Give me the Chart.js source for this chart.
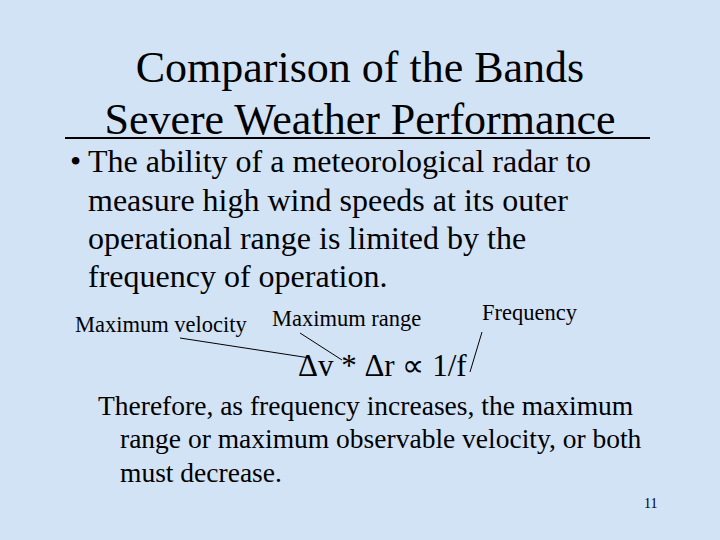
<!DOCTYPE html>
<html><head><meta charset="utf-8">
<script src="https://cdn.jsdelivr.net/npm/chart.js@4"></script>
<style>
body{margin:0;width:720px;height:540px;overflow:hidden;background:#d3e3f6;font-family:"Times New Roman","Liberation Serif",Tinos,serif;color:#000;position:relative}
.t{position:absolute;white-space:nowrap}
.title{font-size:44px;left:0;width:720px;text-align:center}
.b{font-size:32px}
.s{font-size:22.5px}
canvas{position:absolute;left:0;top:0}
</style></head><body>
<canvas id="c" width="720" height="540" style="display:none"></canvas>
<div class="t title" style="top:42px">Comparison of the Bands</div>
<div class="t title" style="top:94px">Severe Weather Performance</div>
<svg width="720" height="540" style="position:absolute;left:0;top:0">
<line x1="65" y1="138" x2="650" y2="138" stroke="#000" stroke-width="2"/>
<line x1="180" y1="338" x2="310" y2="358" stroke="#000" stroke-width="1"/>
<line x1="300" y1="333" x2="342" y2="360" stroke="#000" stroke-width="1"/>
<line x1="482" y1="332" x2="470" y2="372" stroke="#000" stroke-width="1"/>
</svg>
<div class="t b" style="left:70px;top:143px">•</div>
<div class="t b" style="left:88px;top:143px">The ability of a meteorological radar to</div>
<div class="t b" style="left:88px;top:182px">measure high wind speeds at its outer</div>
<div class="t b" style="left:88px;top:220px">operational range is limited by the</div>
<div class="t b" style="left:88px;top:258px">frequency of operation.</div>
<div class="t s" style="left:75px;top:312px">Maximum velocity</div>
<div class="t s" style="left:272px;top:306px">Maximum range</div>
<div class="t s" style="left:482px;top:300px">Frequency</div>
<div class="t" style="font-size:31px;left:298px;top:347px">Δv * Δr ∝ 1/f</div>
<div class="t" style="font-size:27.5px;left:98px;top:390px">Therefore, as frequency increases, the maximum</div>
<div class="t" style="font-size:27.5px;left:120px;top:423px">range or maximum observable velocity, or both</div>
<div class="t" style="font-size:27.5px;left:120px;top:457px">must decrease.</div>
<div class="t" style="font-size:14px;left:644px;top:496px">11</div>
<script>
const categories=[];const values=[];
new Chart(document.getElementById('c'),{type:'bar',data:{labels:categories,datasets:[{data:values}]},options:{animation:false,responsive:false}});
</script>
</body></html>
